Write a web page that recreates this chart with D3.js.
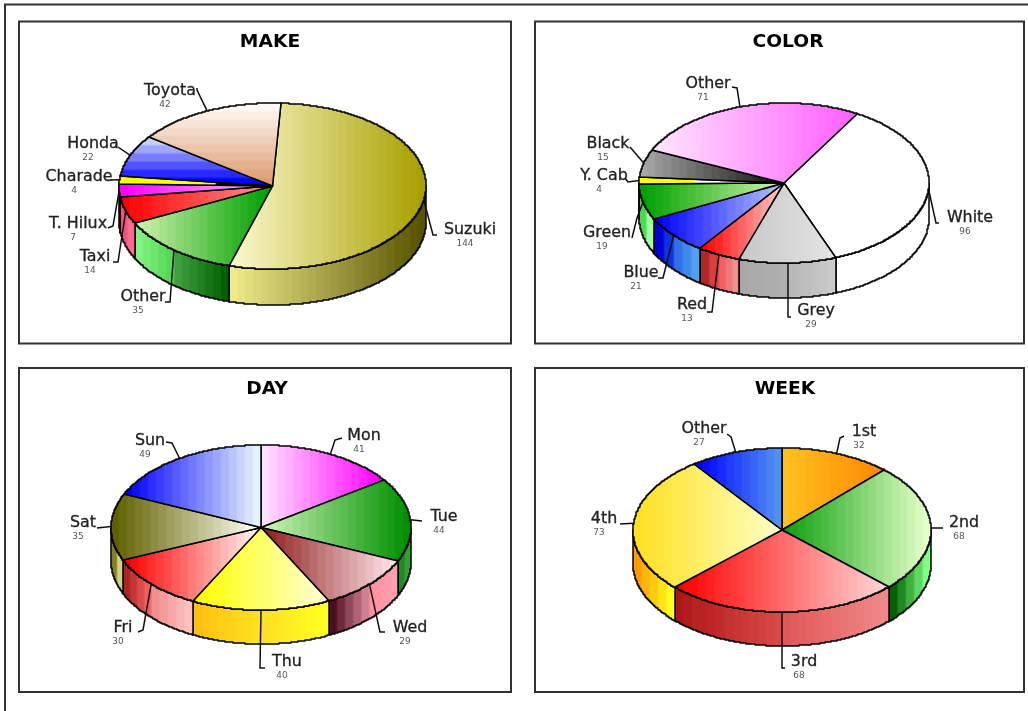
<!DOCTYPE html>
<html>
<head>
<meta charset="utf-8">
<script src="https://cdnjs.cloudflare.com/ajax/libs/d3/7.8.5/d3.min.js"></script>
<style>
    body { margin: 0; background: #fff; }
    svg { display: block; }
    text { font-family: "DejaVu Sans", Verdana, sans-serif; text-anchor: middle; }
    .title { font-size: 17px; font-weight: bold; fill: #000; }
    .name { font-size: 15px; fill: #222; stroke: #222; stroke-width: 0.3px; }
    .value { font-size: 8px; fill: #555; }
    .panel { fill: #fff; stroke: #333; stroke-width: 2px; }
    .edge { stroke: #000; stroke-width: 1.5px; stroke-linejoin: round; }
    .leader { fill: none; stroke: #111; stroke-width: 1.5px; }
</style>
</head>
<body>
<div id="chart"></div>
<script>

// values, clockwise from the start of each pie

let makeNames = ["Suzuki", "Other", "Taxi", "T. Hilux", "Charade", "Honda", "Toyota"];
let makeValues = [144, 35, 14, 7, 4, 22, 42];

let colorNames = ["White", "Grey", "Red", "Blue", "Green", "Y. Cab", "Black", "Other"];
let colorValues = [96, 29, 13, 21, 19, 4, 15, 71];

let dayNames = ["Mon", "Tue", "Wed", "Thu", "Fri", "Sat", "Sun"];
let dayValues = [41, 44, 29, 40, 30, 35, 49];

let weekNames = ["1st", "2nd", "3rd", "4th", "Other"];
let weekValues = [32, 68, 68, 73, 27];

// fills: top faces run left to right ("v" = top to bottom), four colours means a hard break part way

let makeTop = [["#fbf8cc", "#a8a000"], ["#ccf0aa", "#00a000"], ["#ff0000", "#ff9090"], ["#ff00ff", "#ffc8ff"],
    ["#ffff00", "#ffff00", "#000", "#000"], ["#c8d0ff", "#0000ff", "v"], ["#fff8f4", "#dc9c70", "v"]];
let makeSide = [["#efeb8a", "#585300"], ["#80f480", "#55d855", "#3fa03f", "#006000"], ["#f05080", "#ff6a90"],
    ["#e040e0", "#e040e0"], ["#fff", "#fff"], ["#fff", "#fff"], ["#fff", "#fff"]];

let colorTop = [["#fff", "#fff"], ["#c8c8c8", "#e4e4e4"], ["#ff0000", "#ffc8c8"], ["#0000ff", "#b4c4ff"],
    ["#00a000", "#ccf4a8"], ["#ffff00", "#ffff00", "#fff", "#fff"], ["#a8a8a8", "#101010"], ["#ffe4ff", "#ff60ff"]];
let colorSide = [["#fff", "#fff"], ["#a8a8a8", "#b0b0b0", "#b8b8b8", "#cacaca"], ["#b02828", "#d84040", "#f06060", "#f09090"],
    ["#0000d8", "#1030e0", "#3070e8", "#50a0f0"], ["#50d850", "#a0ffa0"], ["#ff0", "#ff0"], ["#888", "#888"], ["#fff", "#fff"]];

let dayTop = [["#ffe0ff", "#ff00ff"], ["#ccf2b4", "#009000"], ["#902020", "#ffe4ea"], ["#ffff00", "#ffffd4"],
    ["#ff0000", "#fff4f0"], ["#606000", "#fffff0"], ["#0000ff", "#e4f2ff"]];
let daySide = [["#fff", "#fff"], ["#208820", "#30a030"], ["#501020", "#d08090", "#ff90a0", "#ffa0b0"],
    ["#ffc010", "#ffe020", "#ffe020", "#ffff20"], ["#b02020", "#f06060", "#f09090", "#ffc0c0"], ["#808020", "#d0d080"], ["#fff", "#fff"]];

let weekTop = [["#ffc020", "#ff8800"], ["#10a010", "#e4ffc8"], ["#ff0000", "#ffd4d4"], ["#ffe020", "#ffffc4"], ["#0000ff", "#5090f0"]];
let weekSide = [["#fff", "#fff"], ["#006000", "#80ff80"], ["#b01818", "#d84848", "#e05858", "#f08888"], ["#ff9900", "#ffff20"], ["#fff", "#fff"]];

// label centre and baseline, then the way the leader goes back to its rim point

let makeLabels = [[470, 234, [[437, 235], [433, 235]]], [143, 301, [[165, 302], [170, 302]]], [95, 261, [[113, 262], [118, 262]]],
    [78, 228, [[108, 228], [113, 226]]], [79, 181, [[110, 180]]], [93, 148, [[118, 147]]], [170, 95, [[197, 88], [197, 90]]]];
let colorLabels = [[970, 222, [[939, 223], [936, 223]]], [816, 315, [[791, 317], [788, 317]]], [692, 309, [[707, 312], [712, 312]]],
    [641, 277, [[658, 278], [663, 278]]], [607, 237, [[632, 238], [637, 218]]], [604, 180, [[625, 178], [628, 182]]],
    [608, 148, [[630, 147]]], [708, 88, [[732, 87], [737, 88]]]];
let dayLabels = [[364, 440, [[342, 438], [335, 440]]], [444, 521, [[422, 521]]], [410, 632, [[385, 632], [380, 632]]],
    [287, 666, [[265, 668], [260, 668]]], [123, 632, [[138, 632], [143, 630]]], [83, 527, [[97, 528]]], [150, 445, [[166, 442], [172, 443]]]];
let weekLabels = [[864, 436, [[844, 436], [840, 438]]], [964, 527, [[943, 528]]], [804, 666, [[785, 668], [782, 668]]],
    [604, 523, [[620, 524]]], [704, 433, [[727, 434], [731, 437]]]];

let WIDTH = 1028,
    HEIGHT = 711,
    STAIR = 1,       // the rims are slightly stepped in the picture
    BAND = 8;        // and the gradients faintly banded

let charts = [
    {title: "MAKE", names: makeNames, values: makeValues, top: makeTop, side: makeSide, labels: makeLabels,
        box: [19, 21.5, 492, 322], titleX: 270, titleY: 47, cx: 272.5, cy: 186, rx: 153.5, ry: 83, depth: 36, start: 3, cut: [0, 0, 0, 0, 0.63, 0, 0]},
    {title: "COLOR", names: colorNames, values: colorValues, top: colorTop, side: colorSide, labels: colorLabels,
        box: [535, 21.5, 489, 322], titleX: 788, titleY: 47, cx: 784, cy: 183, rx: 145, ry: 80, depth: 35, start: 30, cut: [0, 0, 0, 0, 0, 0.38, 0, 0]},
    {title: "DAY", names: dayNames, values: dayValues, top: dayTop, side: daySide, labels: dayLabels,
        box: [19, 368, 492, 324], titleX: 267, titleY: 394, cx: 261, cy: 527.5, rx: 150, ry: 82.5, depth: 34, start: 0, cut: []},
    {title: "WEEK", names: weekNames, values: weekValues, top: weekTop, side: weekSide, labels: weekLabels,
        box: [535, 368, 489, 324], titleX: 785, titleY: 394, cx: 782, cy: 530, rx: 149, ry: 82, depth: 34, start: 0, cut: []}
];

let svg = d3.select("#chart")
    .append("svg")
    .attr("width", WIDTH)
    .attr("height", HEIGHT);

let defs = svg.append("defs");

defs.append("filter")
    .attr("id", "soft")
    .attr("filterUnits", "userSpaceOnUse")
    .attr("x", 0).attr("y", 0)
    .attr("width", WIDTH).attr("height", HEIGHT)
    .append("feGaussianBlur")
    .attr("stdDeviation", 0.6);

let page = svg.append("g").attr("filter", "url(#soft)");

page.append("rect").attr("width", WIDTH).attr("height", HEIGHT).attr("fill", "#fff");

// outer frame has no right or bottom side in the picture
page.append("path")
    .attr("fill", "none")
    .attr("stroke", "#333")
    .attr("stroke-width", 2)
    .attr("d", d3.line()([[5, HEIGHT], [5, 4.5], [WIDTH, 4.5]]));

let gradientCount = 0;

// each run of a gradient is cut into soft bands about BAND pixels wide
function addGradient(colors, x0, x1, y0, y1, breakAt) {
    let id = "grad" + (gradientCount++);
    let grad = defs.append("linearGradient")
        .attr("id", id)
        .attr("gradientUnits", "userSpaceOnUse")
        .attr("x1", x0).attr("x2", x1)
        .attr("y1", y0).attr("y2", y1);
    let size = Math.hypot(x1 - x0, y1 - y0);
    let runs = colors.length == 4
        ? [[0, breakAt, colors[0], colors[1]], [breakAt, 1, colors[2], colors[3]]]
        : [[0, 1, colors[0], colors[1]]];
    runs.forEach(r => {
        let n = Math.max(1, Math.round((r[1] - r[0]) * size / BAND));
        let color = d3.interpolateRgb(r[2], r[3]);
        let span = (r[1] - r[0]) / n;
        d3.range(n).forEach(k => {
            let t = n == 1 ? 0.5 : k / (n - 1);
            grad.append("stop").attr("offset", r[0] + span * (k + 0.15)).attr("stop-color", color(t));
            grad.append("stop").attr("offset", r[0] + span * (k + 0.85)).attr("stop-color", color(t));
        });
    });
    return "url(#" + id + ")";
}

function stairs(points) {
    let out = [];
    points.forEach(p => {
        let q = [Math.round(p[0] / STAIR) * STAIR, Math.round(p[1] / STAIR) * STAIR];
        if (out.length) {
            let last = out[out.length - 1];
            if (last[0] != q[0] && last[1] != q[1]) out.push([q[0], last[1]]);
        }
        out.push(q);
    });
    return out;
}

function drawPie(chart) {

    let g = page.append("g");
    let box = chart.box;

    g.append("rect")
        .classed("panel", true)
        .attr("x", box[0]).attr("y", box[1])
        .attr("width", box[2]).attr("height", box[3]);

    g.append("text")
        .classed("title", true)
        .attr("transform", `translate(${chart.titleX},${chart.titleY}) scale(1.1,1)`)
        .text(chart.title);

    let x = d3.scaleLinear().domain([-1, 1]).range([chart.cx - chart.rx, chart.cx + chart.rx]);
    let y = d3.scaleLinear().domain([-1, 1]).range([chart.cy - chart.ry, chart.cy + chart.ry]);

    // d3 angles run clockwise from twelve o'clock
    let rim = (a, drop) => [x(Math.sin(a)), y(-Math.cos(a)) + (drop || 0)];
    let arcPoints = (a0, a1, drop) => {
        let n = Math.ceil(Math.abs(a1 - a0) * chart.rx / 1.5);
        return stairs(d3.range(n + 1).map(i => rim(a0 + (a1 - a0) * i / n, drop)));
    };

    let start = chart.start * Math.PI / 180;
    let pie = d3.pie().sort(null).startAngle(start).endAngle(start + 2 * Math.PI);
    let arcs = pie(chart.values);
    let line = d3.line();

    // walls first: only the part of each slice that faces the viewer
    [0, 2 * Math.PI].forEach(turn => {
        arcs.forEach((d, i) => {
            let a0 = Math.max(d.startAngle + turn, Math.PI / 2),
                a1 = Math.min(d.endAngle + turn, 3 * Math.PI / 2);
            if (a1 <= a0) return;
            let upper = arcPoints(a0, a1, 0),
                lower = arcPoints(a1, a0, chart.depth);
            let x0 = d3.min(upper, p => p[0]),
                x1 = d3.max(upper, p => p[0]);
            let midX = rim((d.startAngle + d.endAngle) / 2)[0];
            let colors = chart.side[i];
            let breakAt = Math.max(0, Math.min(1, (midX - x0) / (x1 - x0)));
            g.append("path")
                .classed("edge", true)
                .attr("fill", addGradient(colors, x0, x1, 0, 0, breakAt))
                .attr("d", line(upper.concat(lower)) + "Z");
        });
    });

    // leaders pass over the wall but under the top face
    let mids = arcs.map(d => rim((d.startAngle + d.endAngle) / 2));

    g.selectAll(".leader")
        .data(chart.labels)
        .enter()
        .append("path")
        .classed("leader", true)
        .attr("d", (d, i) => line(d[2].concat([mids[i]])));

    // the white slice of COLOR has a stray tick hanging from its edge
    if (chart.title == "COLOR") {
        let p = rim(arcs[0].startAngle);
        g.append("path").classed("leader", true)
            .attr("d", line([p, [p[0], p[1] + chart.depth]]));
    }

    arcs.forEach((d, i) => {
        let pts = [[chart.cx, chart.cy]].concat(arcPoints(d.startAngle, d.endAngle, 0));
        let colors = chart.top[i];
        let xr = d3.extent(pts, p => p[0]),
            yr = d3.extent(pts, p => p[1]);
        let fill = colors[2] == "v"
            ? addGradient(colors.slice(0, 2), 0, 0, yr[0], yr[1])
            : addGradient(colors, xr[0], xr[1], 0, 0, chart.cut[i]);
        g.append("path")
            .classed("edge", true)
            .attr("fill", fill)
            .attr("d", line(pts) + "Z");
    });

    g.selectAll(".name")
        .data(chart.labels)
        .enter()
        .append("text")
        .classed("name", true)
        .attr("transform", d => `translate(${d[0]},${d[1]}) scale(1.06,1)`)
        .text((d, i) => chart.names[i]);

    g.selectAll(".value")
        .data(chart.labels)
        .enter()
        .append("text")
        .classed("value", true)
        .attr("transform", d => `translate(${d[0] - 5},${d[1] + 11.5}) scale(1.12,1)`)
        .text((d, i) => chart.values[i]);
}

charts.forEach(drawPie);

</script>
</body>
</html>
